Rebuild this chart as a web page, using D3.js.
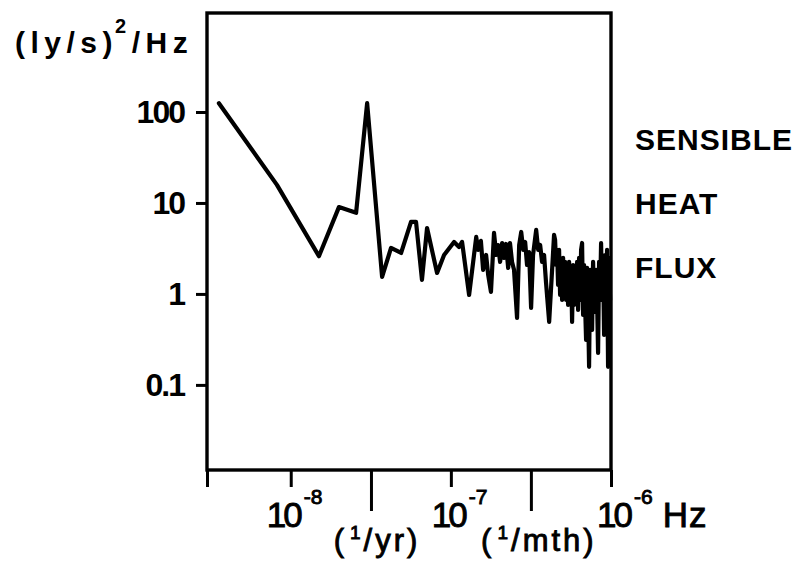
<!DOCTYPE html>
<html>
<head>
<meta charset="utf-8">
<script src="https://cdn.jsdelivr.net/npm/d3@7"></script>
<style>
  html, body { margin: 0; padding: 0; background: #fff; }
  svg { display: block; }
  text { font-family: "Liberation Sans", Arial, sans-serif; fill: #000; font-weight: bold; }
</style>
</head>
<body>
<svg id="chart" width="799" height="564"></svg>
<script>
// Power spectrum of the sensible heat flux, log-log axes.
const frequencyHz = [
  3.56e-9, 8.2e-9, 1.50e-8, 2.00e-8, 2.56e-8, 3.00e-8, 3.72e-8, 4.23e-8, 4.89e-8,
  5.64e-8, 6.06e-8, 6.60e-8, 7.10e-8, 8.20e-8, 9.07e-8, 1.047e-7, 1.125e-7, 1.175e-7,
  1.30e-7, 1.44e-7, 1.48e-7, 1.54e-7, 1.59e-7, 1.66e-7, 1.71e-7, 1.78e-7, 1.86e-7,
  1.92e-7, 1.97e-7, 2.03e-7, 2.09e-7, 2.15e-7, 2.21e-7, 2.28e-7, 2.34e-7, 2.41e-7,
  2.48e-7, 2.59e-7, 2.67e-7, 2.75e-7, 2.83e-7, 2.91e-7, 2.99e-7, 3.08e-7, 3.17e-7,
  3.26e-7, 3.41e-7, 3.51e-7, 3.61e-7, 3.71e-7, 3.82e-7, 3.93e-7, 4.11e-7, 4.41e-7,
  4.476e-7, 4.541e-7, 4.607e-7, 4.673e-7, 4.741e-7, 4.810e-7, 4.879e-7, 4.950e-7,
  5.022e-7, 5.094e-7, 5.168e-7, 5.243e-7, 5.319e-7, 5.396e-7, 5.474e-7, 5.553e-7,
  5.634e-7, 5.715e-7, 5.798e-7, 5.882e-7, 5.967e-7, 6.054e-7, 6.141e-7, 6.230e-7,
  6.320e-7, 6.412e-7, 6.505e-7, 6.599e-7, 6.694e-7, 6.791e-7, 6.890e-7, 6.989e-7,
  7.091e-7, 7.193e-7, 7.297e-7, 7.403e-7, 7.510e-7, 7.619e-7, 7.729e-7, 7.841e-7,
  7.955e-7, 8.070e-7, 8.187e-7, 8.305e-7, 8.425e-7, 8.547e-7, 8.671e-7, 8.796e-7,
  8.924e-7, 9.053e-7, 9.184e-7, 9.317e-7, 9.451e-7, 9.588e-7, 9.727e-7, 9.868e-7
];
const spectralDensity = [
  125, 15.8, 2.6, 9.0, 7.8, 125, 1.54, 3.2, 2.82,
  6.2, 6.2, 1.43, 5.3, 1.70, 2.68, 3.73, 3.28, 3.73,
  0.975, 4.23, 3.05, 3.83, 1.84, 2.68, 1.62, 1.05, 4.68,
  2.68, 3.45, 2.25, 3.63, 2.49, 3.54, 1.93, 3.63, 2.25,
  1.84, 0.545, 3.45, 4.80, 3.05, 3.73, 2.08, 2.89, 0.702,
  2.68, 5.05, 3.05, 3.45, 2.25, 2.68, 1.32, 0.492, 4.45,
  3.92, 2.08, 3.05, 1.256, 3.05, 0.975, 2.25, 0.86,
  2.49, 1.026, 2.25, 0.86, 2.08, 0.757, 2.25, 0.86,
  1.93, 0.492, 2.08, 0.757, 1.84, 0.86, 2.25, 0.667,
  2.49, 0.86, 3.05, 3.63, 0.587, 2.08, 0.757, 0.312,
  1.93, 0.667, 0.158, 1.84, 0.757, 0.402, 2.25, 0.86,
  0.634, 1.84, 0.86, 0.225, 2.25, 0.975, 3.63, 0.86,
  2.25, 0.354, 2.68, 0.86, 3.05, 0.158, 2.49, 0.86
];

const yTickValues = [0.1, 1, 10, 100];
const yTickLabels = ["0.1", "1", "10", "100"];
const decadeTicks = [3e-9, 1e-8, 1e-7, 1e-6];
const decadeLabelValues = [1e-8, 1e-7, 1e-6];
const decadeLabelExponents = ["-8", "-7", "-6"];
const periodTicks = [3.17e-8, 3.16e-7];
const periodUnits = ["yr", "mth"];
const seriesTitle = ["SENSIBLE", "HEAT", "FLUX"];
const yAxisTitle = { base: "(ly/s)", power: "2", unit: "/Hz" };

const svg = d3.select("#chart");
const plotLeft = 207, plotRight = 611, plotTop = 13, plotBottom = 470;

const x = d3.scaleLog().domain([3e-9, 1e-6]).range([plotLeft, plotRight]);
const y = d3.scaleLog().domain([0.0116, 1225]).range([plotBottom, plotTop]);

// spectrum trace
const points = frequencyHz.map((f, i) => [f, spectralDensity[i]]);
svg.append("path")
  .datum(points)
  .attr("fill", "none")
  .attr("stroke", "#000")
  .attr("stroke-width", 4.2)
  .attr("stroke-linejoin", "round")
  .attr("stroke-linecap", "round")
  .attr("d", d3.line().x(d => x(d[0])).y(d => y(d[1])));

// frame
svg.append("rect")
  .attr("x", plotLeft).attr("y", plotTop)
  .attr("width", plotRight - plotLeft).attr("height", plotBottom - plotTop)
  .attr("fill", "none").attr("stroke", "#000").attr("stroke-width", 3.4);

// y axis
const yAxis = svg.append("g")
  .attr("transform", `translate(${plotLeft},0)`)
  .call(d3.axisLeft(y).tickValues(yTickValues)
    .tickFormat((d, i) => yTickLabels[i]).tickSize(11).tickPadding(12));
yAxis.select(".domain").remove();
yAxis.selectAll(".tick line").attr("stroke-width", 3);
yAxis.selectAll(".tick text")
  .style("font-family", "'Liberation Sans', Arial, sans-serif")
  .style("font-weight", "bold").style("font-size", "32px")
  .style("letter-spacing", "-2px");

// x axis: decade ticks (short) and period ticks (long)
const xShort = svg.append("g")
  .attr("transform", `translate(0,${plotBottom})`)
  .call(d3.axisBottom(x).tickValues(decadeTicks).tickSize(17).tickFormat(""));
const xLong = svg.append("g")
  .attr("transform", `translate(0,${plotBottom})`)
  .call(d3.axisBottom(x).tickValues(periodTicks).tickSize(41).tickFormat(""));
[xShort, xLong].forEach(g => {
  g.select(".domain").remove();
  g.selectAll(".tick line").attr("stroke-width", 3);
});

// decade labels 10^n
const decadeLabelShift = [-24, -19, -14];
decadeLabelValues.forEach((v, i) => {
  const t = svg.append("text")
    .attr("x", x(v) + decadeLabelShift[i]).attr("y", 527)
    .style("font-size", "35px").style("font-weight", "normal")
    .style("stroke", "#000").style("stroke-width", 0.9);
  t.append("tspan").style("letter-spacing", "-3px").text("10");
  t.append("tspan").attr("dx", 4).attr("dy", -23).style("font-size", "21px").text(decadeLabelExponents[i]);
  if (i === decadeLabelValues.length - 1) {
    t.append("tspan").attr("dy", 23).attr("dx", 10).style("letter-spacing", "1px").text("Hz");
  }
});

// period labels (1/yr), (1/mth)
const periodShift = [6, 8];
periodTicks.forEach((v, i) => {
  const t = svg.append("text")
    .attr("x", x(v) + periodShift[i]).attr("y", 551)
    .attr("text-anchor", "middle")
    .style("font-size", "31px").style("font-weight", "normal")
    .style("stroke", "#000").style("stroke-width", 0.9)
    .style("letter-spacing", "3px");
  t.append("tspan").text("(");
  t.append("tspan").attr("dx", 3).attr("dy", -12).style("font-size", "19px").text("1");
  t.append("tspan").attr("dy", 12).text("/" + periodUnits[i] + ")");
});

// y axis title
const yt = svg.append("text")
  .attr("x", 15).attr("y", 53)
  .style("font-size", "30px").style("letter-spacing", "5.5px");
yt.append("tspan").text(yAxisTitle.base);
yt.append("tspan").attr("dx", -3).attr("dy", -20).style("font-size", "20px").text(yAxisTitle.power);
yt.append("tspan").attr("dy", 20).text(yAxisTitle.unit);

// series title on the right
svg.selectAll("text.series")
  .data(seriesTitle)
  .join("text")
  .attr("class", "series")
  .attr("x", 635)
  .attr("y", (d, i) => 150 + i * 64)
  .style("font-size", "30px").style("letter-spacing", "1px")
  .text(d => d);
</script>
</body>
</html>
